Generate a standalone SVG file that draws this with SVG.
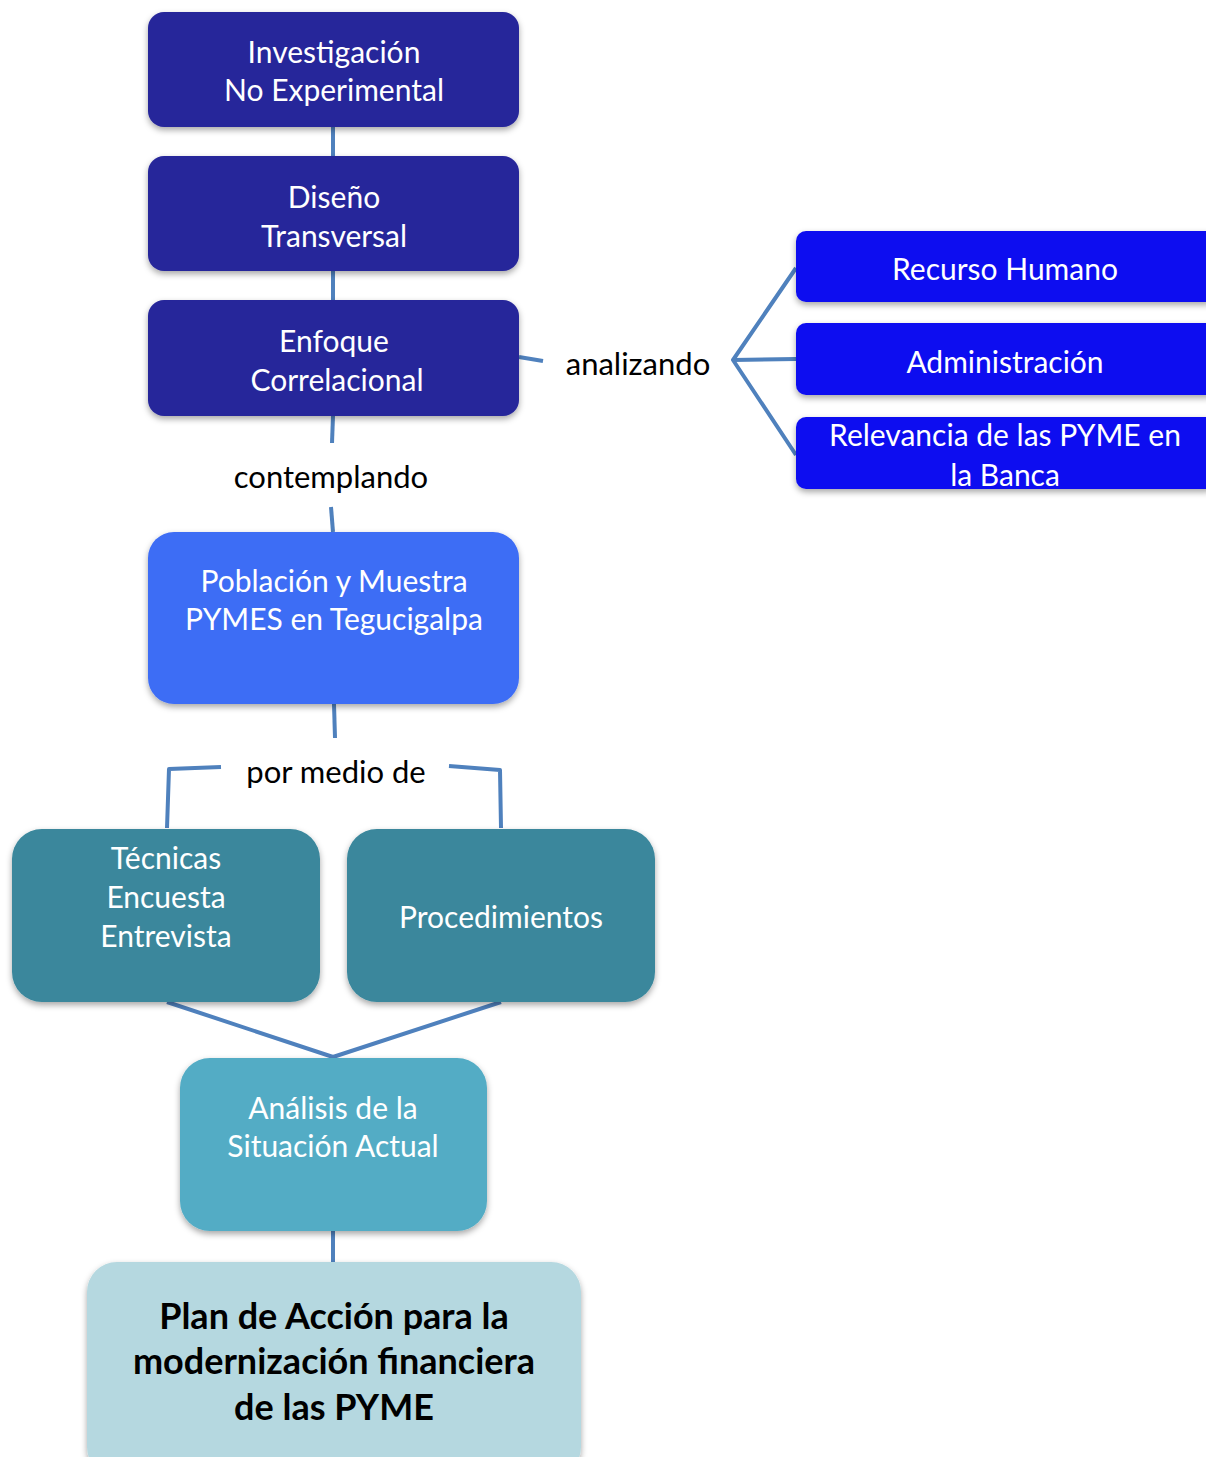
<svg xmlns="http://www.w3.org/2000/svg" width="1206" height="1457" viewBox="0 0 1206 1457">
<defs>
<filter id="sh" x="-10%" y="-10%" width="120%" height="130%">
<feDropShadow dx="0" dy="3" stdDeviation="3" flood-color="#000" flood-opacity="0.35"/>
</filter>
<style>
.t{font-family:Lato,"Open Sans","Liberation Sans",sans-serif;font-size:30px;fill:#fff;text-anchor:middle}
.l{font-family:Lato,"Open Sans","Liberation Sans",sans-serif;font-size:31px;fill:#000;text-anchor:middle}
.b{font-family:Lato,"Open Sans","Liberation Sans",sans-serif;font-size:36px;font-weight:bold;fill:#000;text-anchor:middle}
.c{fill:none;stroke:#4F81BD;stroke-width:4;stroke-linejoin:round}
.n1{fill:#27279A}
.n2{fill:#0C0CF0}
.n3{fill:#3E6DF5}
.n4{fill:#3A879C}
.n5{fill:#53ACC5}
.n6{fill:#B5D8E0}
</style>
</defs>
<g id="connectors">
<path class="c" d="M333 127 V156"/>
<path class="c" d="M333 271 V300"/>
<path class="c" d="M519 357 L543 361"/>
<path class="c" d="M796 268 L733 360 L796 455"/>
<path class="c" d="M733 360 L796 359"/>
<path class="c" d="M333 416 L332 443"/>
<path class="c" d="M331 507 L333 532"/>
<path class="c" d="M334 704 L335 738"/>
<path class="c" d="M221 767 L169 769 L167 828"/>
<path class="c" d="M449 766 L500 770 L501 828"/>
<path class="c" d="M167 1002 L333 1057 L501 1002"/>
<path class="c" d="M333 1231 V1262"/>
<text class="l" x="638" y="375">analizando</text>
<text class="l" x="331" y="488">contemplando</text>
<text class="l" x="336" y="783">por medio de</text>
</g>
<g id="n-investigacion">
<rect class="n1" x="148" y="12" width="371" height="115" rx="16" filter="url(#sh)"/>
<text class="t" x="334" y="63">Investigación</text>
<text class="t" x="334" y="101">No Experimental</text>
</g>
<g id="n-diseno">
<rect class="n1" x="148" y="156" width="371" height="115" rx="16" filter="url(#sh)"/>
<text class="t" x="334" y="208">Diseño</text>
<text class="t" x="334" y="247">Transversal</text>
</g>
<g id="n-enfoque">
<rect class="n1" x="148" y="300" width="371" height="116" rx="16" filter="url(#sh)"/>
<text class="t" x="334" y="352">Enfoque</text>
<text class="t" x="337" y="391">Correlacional</text>
</g>
<g id="n-recurso">
<rect class="n2" x="796" y="231" width="420" height="71" rx="10" filter="url(#sh)"/>
<text class="t" x="1005" y="280">Recurso Humano</text>
</g>
<g id="n-admin">
<rect class="n2" x="796" y="323" width="420" height="72" rx="10" filter="url(#sh)"/>
<text class="t" x="1005" y="373">Administración</text>
</g>
<g id="n-relevancia">
<rect class="n2" x="796" y="417" width="420" height="72" rx="10" filter="url(#sh)"/>
<text class="t" x="1005" y="446">Relevancia de las PYME en</text>
<text class="t" x="1005" y="486">la Banca</text>
</g>
<g id="n-poblacion">
<rect class="n3" x="148" y="532" width="371" height="172" rx="26" filter="url(#sh)"/>
<text class="t" x="334" y="592">Población y Muestra</text>
<text class="t" x="334" y="630">PYMES en Tegucigalpa</text>
</g>
<g id="n-tecnicas">
<rect class="n4" x="12" y="829" width="308" height="173" rx="30" filter="url(#sh)"/>
<text class="t" x="166" y="869">Técnicas</text>
<text class="t" x="166" y="908">Encuesta</text>
<text class="t" x="166" y="947">Entrevista</text>
</g>
<g id="n-procedimientos">
<rect class="n4" x="347" y="829" width="308" height="173" rx="30" filter="url(#sh)"/>
<text class="t" x="501" y="928">Procedimientos</text>
</g>
<g id="n-analisis">
<rect class="n5" x="180" y="1058" width="307" height="173" rx="30" filter="url(#sh)"/>
<text class="t" x="333" y="1119">Análisis de la</text>
<text class="t" x="333" y="1157">Situación Actual</text>
</g>
<g id="n-plan">
<rect class="n6" x="87" y="1262" width="494" height="215" rx="30" filter="url(#sh)"/>
<text class="b" x="334" y="1329">Plan de Acción para la</text>
<text class="b" x="334" y="1374">modernización financiera</text>
<text class="b" x="334" y="1420">de las PYME</text>
</g>
</svg>
